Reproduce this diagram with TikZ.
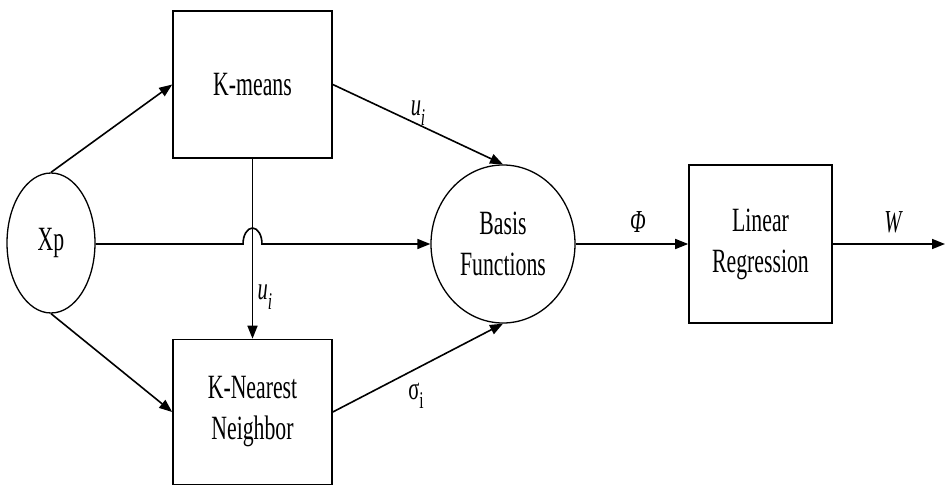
\documentclass[tikz,border=0pt]{standalone}
\usepackage{fontspec}
\setmainfont{Liberation Serif}[FakeStretch=0.64]
\usetikzlibrary{shapes.geometric,arrows.meta}
\tikzset{
  blk/.style={draw,line width=1.6pt,rectangle,minimum width=159pt,minimum height=147pt,inner sep=0pt,align=center,font=\fontsize{34}{41}\selectfont},
  oval/.style={draw,line width=1.3pt,ellipse,inner sep=0pt,align=center,font=\fontsize{34}{41}\selectfont},
  conn/.style={line width=1.6pt,-{Triangle[length=13pt,width=10pt]}},
  lbl/.style={inner sep=0pt,font=\fontsize{32}{38}\selectfont}
}
\newcommand{\sbi}[1]{\raisebox{-0.3em}{\fontsize{24}{28}\selectfont #1}}
\begin{document}
\begin{tikzpicture}[x=1pt,y=-1pt]
\useasboundingbox (0,0) rectangle (945,486);
\node[oval,minimum width=88pt,minimum height=140pt] (xp) at (51,243) {Xp};
\node[blk] (km) at (252.5,84.5) {K-means};
\node[blk,minimum height=145pt] (knn) at (252.5,412) {K-Nearest\\Neighbor};
\node[oval,minimum width=144pt,minimum height=158pt] (bf) at (503,244) {Basis\\Functions};
\node[blk,minimum width=143pt,minimum height=158pt] (lr) at (760.5,244) {Linear\\Regression};
\coordinate (out) at (945,244);
\coordinate (hopa) at (243,244);
% connectors
\draw[conn] (xp.north) -- (km.west);
\draw[conn] (xp.south) -- (knn.west);
\draw[conn] (km.south) -- (knn.north);
\draw[conn] (km.east) -- (bf.north);
\draw[conn] (knn.east) -- (bf.south);
\draw[conn] (xp.east |- hopa) -- (hopa) arc[start angle=180,end angle=360,x radius=9.5,y radius=16] -- (bf.west);
\draw[conn] (bf.east) -- (lr.west);
\draw[conn] (lr.east) -- (out);
% labels
\node[lbl] (lu1) at (418,113) {\itshape u\sbi{i}};
\node[lbl] (lu2) at (265,297) {\itshape u\sbi{i}};
\node[lbl] (ls) at (416,396) {σ\sbi{i}};
\node[lbl] (lphi) at (638,222) {\itshape Φ};
\node[lbl] (lw) at (893,222) {\itshape W};
\end{tikzpicture}
\end{document}
